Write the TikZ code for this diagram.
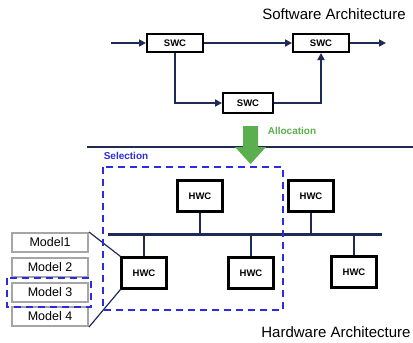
\documentclass[tikz,border=0pt]{standalone}
\usepackage{fontspec}
\setmainfont{Liberation Sans}
\usetikzlibrary{arrows.meta}
\definecolor{navy}{HTML}{1F2A55}
\definecolor{selblue}{HTML}{2B2BE0}
\definecolor{allocgreen}{HTML}{5BAF4E}
\definecolor{modelgray}{HTML}{A6A6A6}

\tikzset{
  swc/.style={draw=black, line width=2pt, fill=white, minimum width=56pt,
    minimum height=18pt, inner sep=0pt, font=\fontsize{9.5}{9.5}\selectfont\bfseries},
  hwc/.style={draw=black, line width=2.2pt, fill=white, minimum width=45pt,
    minimum height=31pt, inner sep=0pt, font=\fontsize{9.5}{9.5}\selectfont\bfseries},
  model/.style={draw=modelgray, line width=2pt, fill=white, minimum width=76pt,
    minimum height=19pt, inner sep=0pt, font=\fontsize{12.5}{12.5}\selectfont},
  link/.style={navy, line width=1.7pt, -{Triangle[length=7pt,width=7pt]}},
  bus/.style={navy, line width=3pt},
  stem/.style={navy, line width=2.4pt},
  sel/.style={selblue, line width=2.4pt, dash pattern=on 7pt off 5pt},
  title/.style={font=\fontsize{15}{15}\selectfont}
}

\begin{document}
\begin{tikzpicture}[x=1pt, y=-1pt]
    \useasboundingbox (0,0) rectangle (413,343);

    % Software side
    \node[title] (swtitle) at (334,14) {Software Architecture};
    \node[swc] (swc1) at (175,43) {SWC};
    \node[swc] (swc2) at (321,43) {SWC};
    \node[swc, minimum width=50pt, minimum height=20pt] (swc3) at (248,103) {SWC};
    \coordinate (in) at (111,43);  % free input end
    \coordinate (out) at (386,43); % free output end

    \draw[link] (in) -- (swc1);
    \draw[link] (swc1) -- (swc2);
    \draw[link] (swc2) -- (out);
    \draw[link] (swc1.south) |- (swc3.west);
    \draw[link] (swc3.east) -| (swc2.south);

    % Separator and allocation arrow
    \coordinate (sepL) at (87,147);
    \coordinate (sepR) at (413,147);
    \draw[navy, line width=2pt] (sepL) -- (sepR);
    \fill[allocgreen] (243,126) -- (258,126) -- (258,147) -- (266,147)
        -- (250.5,164) -- (235,147) -- (243,147) -- cycle;
    \node[allocgreen, font=\fontsize{10}{10}\selectfont\bfseries] (alloc) at (292,131) {Allocation};

    % Hardware side
    \coordinate (busL) at (108,234);
    \coordinate (busR) at (382,234);
    \node[hwc] (hwc1) at (200,196) {HWC};
    \node[hwc] (hwc2) at (311,196) {HWC};
    \node[hwc] (hwc3) at (144,273) {HWC};
    \node[hwc] (hwc4) at (251,273) {HWC};
    \node[hwc] (hwc5) at (354,272) {HWC};

    \draw[bus] (busL) -- (busR);
    \draw[stem] (hwc1.south) -- (hwc1.south |- busL);
    \draw[stem] (hwc2.south) -- (hwc2.south |- busL);
    \draw[stem] (hwc3.north) -- (hwc3.north |- busL);
    \draw[stem] (hwc4.north) -- (hwc4.north |- busL);
    \draw[stem] (hwc5.north) -- (hwc5.north |- busL);

    % Models of one HWC
    \node[model] (m1) at (50,242.5) {Model1};
    \node[model] (m2) at (50,267) {Model 2};
    \node[model] (m3) at (50,292) {Model 3};
    \node[model] (m4) at (50,316.5) {Model 4};
    \draw[navy, line width=1.2pt] (m1.north east) -- (hwc3.north west);
    \draw[navy, line width=1.2pt] (m4.south east) -- (hwc3.south west);

    % Selection
    \node[selblue, font=\fontsize{10}{10}\selectfont\bfseries] (seltext) at (126,156) {Selection};
    \draw[sel] (103,167) rectangle (283,310);
    \draw[sel] (7,278) rectangle (91,307);

    \node[title] (hwtitle) at (336,332) {Hardware Architecture};
\end{tikzpicture}
\end{document}
